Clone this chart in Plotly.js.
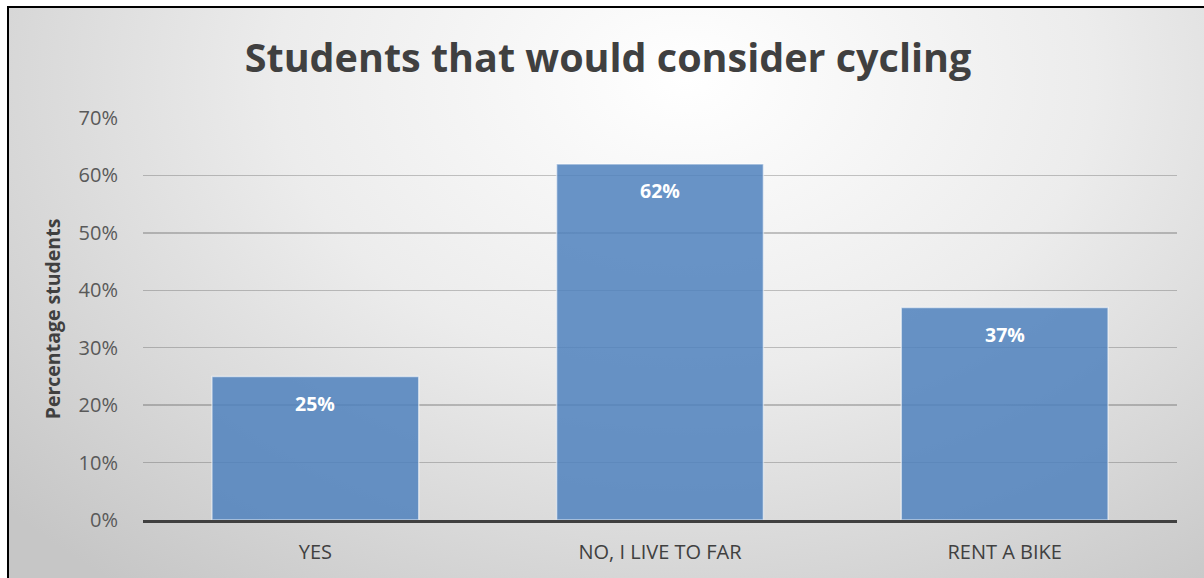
<!DOCTYPE html>
<html>
<head>
<meta charset="utf-8">
<script src="https://cdn.plot.ly/plotly-3.0.1.min.js"></script>
<style>
  html, body { margin: 0; padding: 0; background: #ffffff; overflow: hidden; }
  #frame {
    position: absolute; left: 7px; top: 6px; width: 1210px; height: 590px;
    border-left: 2px solid #000; border-top: 2px solid #000;
    background: radial-gradient(ellipse 75% 110% at 56% 12%, #ffffff 0%, #ececec 45%, #c6c6c6 100%);
  }
  #chart { position: absolute; left: 0; top: 0; width: 1204px; height: 578px; }
</style>
</head>
<body>
<div id="frame"></div>
<div id="chart"></div>
<script>
const categories = ["YES", "NO, I LIVE TO FAR", "RENT A BIKE"];
const values = [0.25, 0.62, 0.37];
const valueLabels = ["25%", "62%", "37%"];
const yTickValues = [0, 0.1, 0.2, 0.3, 0.4, 0.5, 0.6, 0.7];
const yTickLabels = ["0%", "10%", "20%", "30%", "40%", "50%", "60%", "70%"];

const fontFam = "Open Sans, Noto Sans, DejaVu Sans, sans-serif";

const trace = {
  type: "bar",
  x: categories,
  y: values,
  marker: { color: "rgba(79,129,189,0.85)", line: { color: "rgba(255,255,255,0.55)", width: 1.5 } },
  hoverinfo: "none"
};

const annotations = categories.map((c, i) => ({
  x: c, y: values[i], text: "<b>" + valueLabels[i] + "</b>",
  showarrow: false, yanchor: "middle", yshift: -27,
  font: { family: fontFam, size: 19.5, color: "#ffffff" }
}));

const layout = {
  width: 1204, height: 578,
  paper_bgcolor: "rgba(0,0,0,0)", plot_bgcolor: "rgba(0,0,0,0)",
  margin: { l: 143, r: 27, t: 118, b: 58 },
  bargap: 0.4,
  showlegend: false,
  title: {
    text: "<b>Students that would consider cycling</b>",
    x: 0.505, xanchor: "center", y: 0.9, yanchor: "middle",
    font: { family: fontFam, size: 39.5, color: "#404040" }
  },
  xaxis: {
    type: "category",
    showgrid: false, zeroline: false,
    showline: true, linecolor: "#404040", linewidth: 3,
    ticks: "", tickfont: { family: fontFam, size: 20, color: "#404040" },
    ticklabelstandoff: 12
  },
  yaxis: {
    range: [0, 0.7],
    tickvals: yTickValues, ticktext: yTickLabels,
    showgrid: true, gridcolor: "rgba(70,70,70,0.3)", gridwidth: 1.5,
    zeroline: false, showline: false, ticks: "",
    tickfont: { family: fontFam, size: 20, color: "#595959" },
    ticklabelstandoff: 24,
    title: { text: "<b>Percentage students</b>", standoff: 12,
      font: { family: fontFam, size: 19.5, color: "#404040" } }
  },
  annotations: annotations
};

Plotly.newPlot("chart", [trace], layout, { staticPlot: true, displayModeBar: false });
</script>
</body>
</html>
